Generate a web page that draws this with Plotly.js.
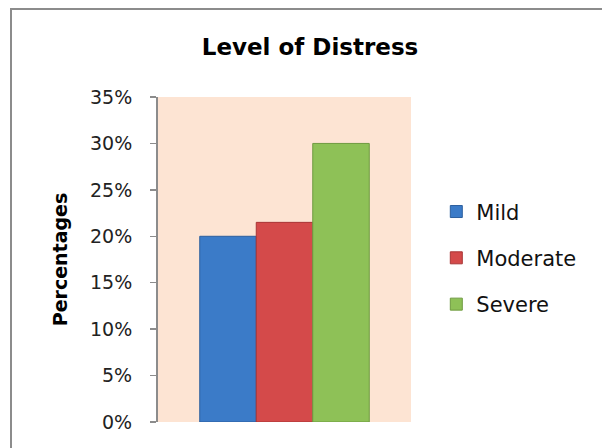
<!DOCTYPE html>
<html>
<head>
<meta charset="utf-8">
<script src="https://cdn.plot.ly/plotly-3.0.1.min.js"></script>
<style>
html,body{margin:0;padding:0;background:#fff;}
#wrap{position:relative;width:602px;height:448px;overflow:hidden;}
#chart{position:absolute;left:0;top:0;width:602px;height:448px;}
#frame{position:absolute;left:10px;top:8px;width:620px;height:460px;border-left:2px solid #8c8c8c;border-top:2px solid #8c8c8c;pointer-events:none;}
</style>
</head>
<body>
<div id="wrap"><div id="chart"></div><div id="frame"></div></div>
<script>
const seriesNames = ["Mild", "Moderate", "Severe"];
const seriesValues = [0.20, 0.215, 0.30];
const category = ["Level of Distress"];
const seriesColors = ["#3B7BC8", "#D44A4A", "#8EC157"];
const seriesEdges = ["#2C5F9E", "#A83535", "#6E9A40"];
const yTicks = [0, 0.05, 0.10, 0.15, 0.20, 0.25, 0.30, 0.35];
const yTickLabels = ["0%", "5%", "10%", "15%", "20%", "25%", "30%", "35%"];

const font = "'DejaVu Sans', Verdana, sans-serif";
const traces = seriesNames.map((n, i) => ({
  type: "bar",
  name: n,
  x: category,
  y: [seriesValues[i]],
  legendgroup: n,
  marker: {color: seriesColors[i], line: {color: seriesEdges[i], width: 1}},
  hoverinfo: "none"
}));

const layout = {
  width: 602, height: 448,
  margin: {l: 158, r: 191, t: 97, b: 26},
  paper_bgcolor: "rgba(0,0,0,0)",
  plot_bgcolor: "#FDE4D3",
  barmode: "group",
  bargap: 0.33,
  bargroupgap: 0.0,
  title: {text: "<b>Level of Distress</b>", font: {family: font, size: 23, color: "#000"},
          x: 0.515, xanchor: "center", y: 0.895, yanchor: "middle"},
  xaxis: {showticklabels: false, showgrid: false, zeroline: false, showline: false, ticks: ""},
  yaxis: {
    range: [0, 0.35], tickvals: yTicks, ticktext: yTickLabels,
    showgrid: false, zeroline: false, showline: true, linecolor: "#8c8c8c", linewidth: 2,
    ticks: "outside", ticklen: 6, tickcolor: "#8c8c8c", tickwidth: 1.5,
    ticklabelstandoff: 14,
    tickfont: {family: font, size: 19, color: "#222"},
    title: {text: "<b>Percentages</b>", font: {family: font, size: 19, color: "#000"}, standoff: 17}
  },
  legend: {
    x: 1.10, xanchor: "left", y: 0.505, yanchor: "middle",
    font: {family: font, size: 21, color: "#111"},
    traceorder: "grouped", tracegroupgap: 16,
    itemwidth: 30, bgcolor: "rgba(0,0,0,0)"
  },
  showlegend: true
};

Plotly.newPlot("chart", traces, layout, {displayModeBar: false, staticPlot: true});
</script>
</body>
</html>
